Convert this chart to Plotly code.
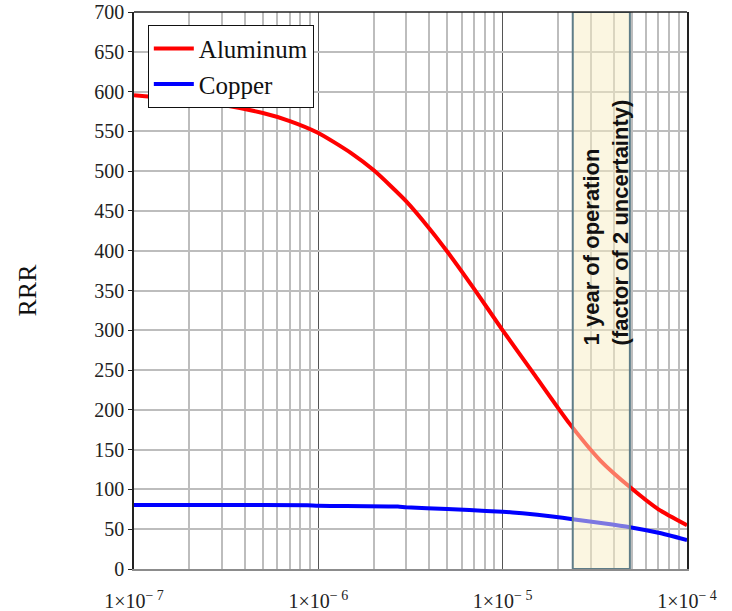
import math
import plotly.graph_objects as go

# ---- data ----
al_x = [1e-7, 2e-7, 3e-7, 5e-7, 7e-7, 1e-6, 1.5e-6, 2e-6, 3e-6, 4e-6, 5e-6,
        7e-6, 1e-5, 1.5e-5, 2.3e-5, 3.4e-5, 4.9e-5, 7e-5, 1e-4]
al_y = [595.5, 589, 583.5, 573, 563, 548, 523, 501, 462, 428, 399,
        352, 300, 243, 183, 136, 103, 75, 55]

cu_x = [1e-7, 3e-7, 8.7e-7, 1e-6, 2.7e-6, 3e-6, 5e-6, 6.6e-6, 1e-5, 1.28e-5,
        1.86e-5, 2.4e-5, 3.5e-5, 4.9e-5, 7e-5, 1e-4]
cu_y = [80.5, 80.5, 80, 79.5, 78.5, 77.5, 75.5, 74, 72, 70,
        66, 62.5, 57.5, 52.5, 45.5, 36.5]

series_names = ["Aluminum", "Copper"]

x_tickvals = [1e-7, 1e-6, 1e-5, 1e-4]
x_ticktext = ["1×10<sup>− 7</sup>", "1×10<sup>− 6</sup>", "1×10<sup>− 5</sup>", "1×10<sup>− 4</sup>"]
x_minor = [m * 10.0 ** e for e in (-7, -6, -5) for m in range(2, 10)]
y_tickvals = list(range(0, 701, 50))

band_start, band_end = 2.4e-5, 4.9e-5
band_label = "1 year of operation<br>(factor of 2 uncertainty)"

SERIF = "Liberation Serif, Times New Roman, serif"

fig = go.Figure()
fig.add_trace(go.Scatter(x=al_x, y=al_y, mode="lines", name=series_names[0],
                         line=dict(color="#FF0000", width=4, shape="spline", smoothing=0.6)))
fig.add_trace(go.Scatter(x=cu_x, y=cu_y, mode="lines", name=series_names[1],
                         line=dict(color="#0000FF", width=4, shape="spline", smoothing=0.5)))

# shaded band (semi-transparent, above traces)
fig.add_shape(type="rect", xref="x", yref="y", x0=band_start, x1=band_end, y0=0, y1=700,
              fillcolor="rgba(247,237,195,0.5)", line=dict(color="#5F7D88", width=2),
              layer="above")
# top border
fig.add_shape(type="line", xref="paper", yref="paper", x0=0, x1=1, y0=1, y1=1,
              line=dict(color="#222222", width=1.5), layer="above")

fig.add_annotation(x=math.log10(3.65e-5), y=436, xref="x", yref="y",
                   text=band_label, textangle=-90, showarrow=False, align="left",
                   font=dict(family="Liberation Sans, Arial, sans-serif", size=22,
                             color="#111111", weight="bold"))

fig.update_layout(
    width=732, height=611,
    margin=dict(l=134, r=45, t=12, b=42),
    paper_bgcolor="white", plot_bgcolor="white",
    showlegend=True,
    legend=dict(x=0.025, y=0.977, xanchor="left", yanchor="top",
                bgcolor="white", bordercolor="#111111", borderwidth=1,
                font=dict(family=SERIF, size=25, color="#111111"),
                itemwidth=40, tracegroupgap=0),
    yaxis_title=dict(text="RRR", font=dict(family=SERIF, size=26, color="#111111"),
                     standoff=50),
)

fig.update_xaxes(type="log", range=[-7, -4], automargin=False,
                 tickmode="array", tickvals=x_tickvals, ticktext=x_ticktext,
                 ticks="", showgrid=True, gridcolor="#555555", gridwidth=1.2,
                 showline=True, linecolor="#8C8C8C", linewidth=2, mirror=False,
                 tickfont=dict(family=SERIF, size=20, color="#222222"),
                 ticklabelstandoff=13, ticklabeloverflow="allow",
                 minor=dict(tickmode="array", tickvals=x_minor, showgrid=True,
                            gridcolor="#BDBDBD", gridwidth=1.5, ticks=""),
                 zeroline=False)
fig.update_yaxes(range=[0, 700], tickmode="array", tickvals=y_tickvals, automargin=False,
                 ticks="outside", ticklen=4, tickcolor="#222222",
                 showgrid=True, gridcolor="#BDBDBD", gridwidth=1.5,
                 showline=True, linecolor="#222222", linewidth=1.5, mirror=True,
                 tickfont=dict(family=SERIF, size=20, color="#222222"),
                 ticklabeloverflow="allow",
                 zeroline=False)

# remove the browser's default 8px page margin so the figure fills the window
fig.write_html("out.html", config={"displayModeBar": False},
               post_script="document.body.style.margin='0px';")
